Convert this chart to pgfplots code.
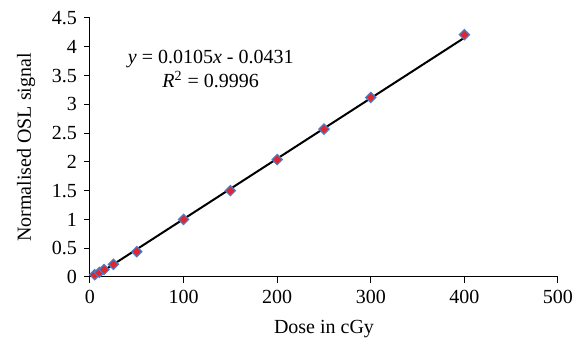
\documentclass[border=0pt]{standalone}
\usepackage{pgfplots}
\pgfplotsset{compat=1.18}
\usepackage{fontspec}
\setmainfont{Liberation Serif}
\definecolor{mred}{HTML}{E0262F}
\definecolor{mblue}{HTML}{4A7CC9}
\begin{document}
\fontsize{10}{12}\selectfont
\begin{tikzpicture}
\begin{axis}[
  at={(0,0)}, anchor=south west,
  scale only axis, width=234pt, height=129.5pt,
  xmin=0, xmax=500, ymin=0, ymax=4.5,
  xtick={0,100,...,500},
  ytick={0,0.5,...,4.5},
  axis x line*=bottom, axis y line*=left,
  axis line style={-, line width=0.5pt},
  tick style={black, line width=0.5pt},
  tick align=outside, major tick length=3pt,
  /pgf/number format/assume math mode=true,
  ticklabel style={font=\fontsize{10}{12}\selectfont},
  label style={font=\fontsize{10}{12}\selectfont},
  yticklabel style={/pgf/number format/fixed, /pgf/number format/precision=1},
  xlabel={Dose in cGy}, ylabel={Normalised OSL signal},
  xlabel style={yshift=-1.5pt}, ylabel style={yshift=1.5pt},
  clip=false,
]
\addplot[mark=square*, only marks, mark size=1.8pt, mark options={rotate=45, fill=mred, draw=mblue, line width=0.6pt}] coordinates {
(5,0.04) (10,0.08) (15,0.13) (25,0.22) (50,0.44) (100,1.0) (150,1.5) (200,2.04) (250,2.57) (300,3.12) (400,4.21)
};
\addplot[black, line width=1pt] coordinates {(5,0.0094) (400,4.1569)};
\node[align=center, font=\fontsize{10}{12}\selectfont] at (axis cs:129,3.61) {\textit{y} = 0.0105\textit{x} - 0.0431\\ \textit{R}\textsuperscript{2} = 0.9996};
\end{axis}
\path[use as bounding box] (-45pt,-34.5pt) rectangle (247pt,138.5pt);
\end{tikzpicture}
\end{document}
